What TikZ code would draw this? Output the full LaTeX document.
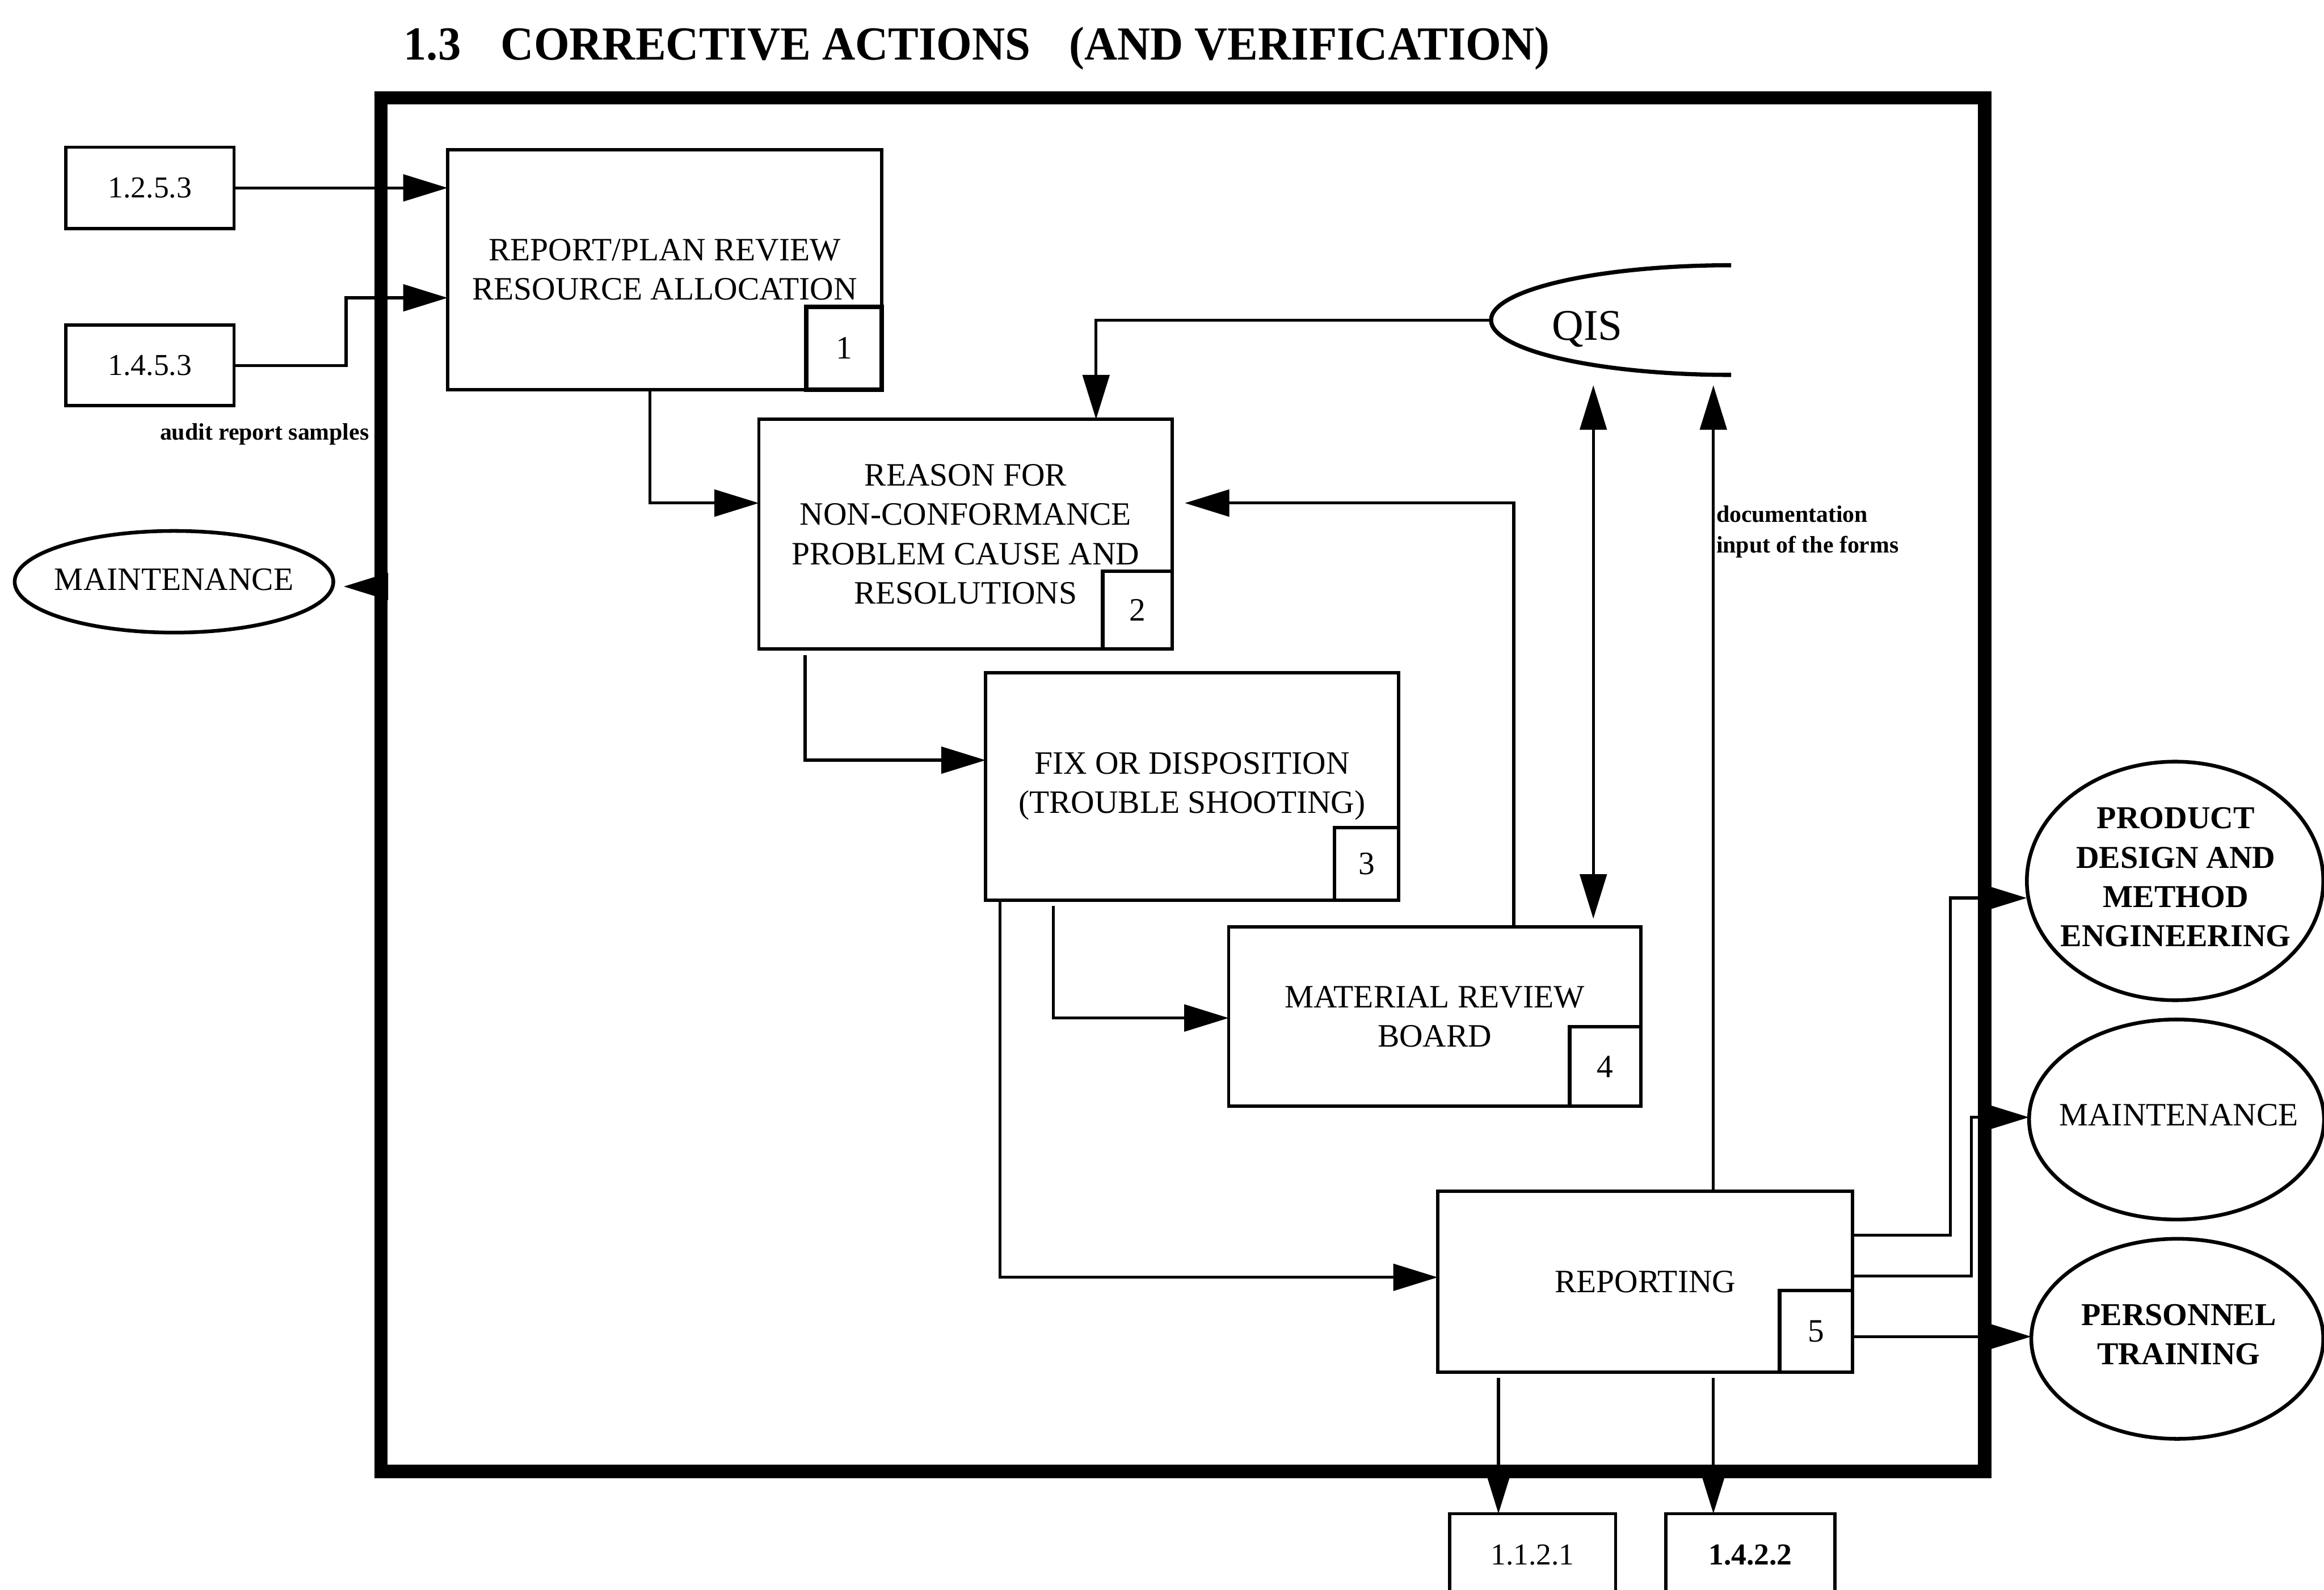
\documentclass[tikz,border=0pt]{standalone}
\usepackage{fontspec}
\usepackage{graphicx}
\setmainfont{Liberation Serif}
\usetikzlibrary{arrows.meta,shapes.geometric}

\begin{document}
\begin{tikzpicture}[x=1pt,y=-1pt,
  every node/.style={inner sep=0pt, outer sep=0pt},
  procbox/.style={draw, line width=2.2pt, align=center, font=\fontsize{22}{26.5}\selectfont},
  numbox/.style={draw, line width=2.4pt, anchor=south east, font=\fontsize{22}{26}\selectfont},
  refbox/.style={draw, line width=2.2pt, font=\fontsize{20.5}{24}\selectfont},
  extshape/.style={draw, ellipse, line width=2.5pt},
  exttext/.style={align=center, font=\fontsize{22}{26.5}\selectfont},
  extbold/.style={align=center, font=\fontsize{21.5}{26.5}\selectfont\bfseries},
  note/.style={font=\fontsize{16}{19}\selectfont\bfseries},
  link/.style={line width=2pt},
  arr/.style={link, -{Triangle[length=30pt,width=18pt]}},
  arrboth/.style={link, {Triangle[length=30pt,width=18pt]}-{Triangle[length=30pt,width=18pt]}}
]
\useasboundingbox (0,0) rectangle (1568,1073);
\fill[white] (0,0) rectangle (1568,1073);

% title
\node[anchor=base, font=\fontsize{32}{38}\selectfont\bfseries] (title) at (659,40.5)
  {\scalebox{0.964}[1]{1.3\hspace{28pt}CORRECTIVE ACTIONS\hspace{27pt}(AND VERIFICATION)}};

% outer boundary
\node[draw, line width=9pt, minimum width=1082pt, minimum height=927pt] (frame) at (798,529.5) {};

% process boxes
\node[procbox, minimum width=293pt, minimum height=162pt] (b1) at (448.5,182) {REPORT/PLAN REVIEW\\RESOURCE ALLOCATION};
\node[procbox, minimum width=279pt, minimum height=155pt] (b2) at (651.5,360.5) {REASON FOR\\NON-CONFORMANCE\\PROBLEM CAUSE AND\\RESOLUTIONS};
\node[procbox, minimum width=278.5pt, minimum height=153.5pt] (b3) at (804.25,530.75) {FIX OR DISPOSITION\\(TROUBLE SHOOTING)};
\node[procbox, minimum width=278pt, minimum height=121pt] (b4) at (968,686) {MATERIAL REVIEW\\BOARD};
\node[procbox, minimum width=280pt, minimum height=122pt] (b5) at (1110,865) {REPORTING};

% step numbers
\node[numbox, line width=3pt, minimum width=51pt, minimum height=56pt] (n1) at (b1.south east) {1};
\node[numbox, minimum width=47pt, minimum height=52.5pt] (n2) at (b2.south east) {2};
\node[numbox, minimum width=43pt, minimum height=49pt] (n3) at (b3.south east) {3};
\node[numbox, minimum width=48pt, minimum height=53.5pt] (n4) at (b4.south east) {4};
\node[numbox, minimum width=49.3pt, minimum height=55pt] (n5) at (b5.south east) {5};

% reference boxes
\node[refbox, minimum width=113.4pt, minimum height=55pt] (in1) at (101.2,126.8) {1.2.5.3};
\node[refbox, minimum width=113.4pt, minimum height=54.3pt] (in2) at (101.2,246.6) {1.4.5.3};
\node[refbox, minimum width=112pt, minimum height=56pt] (o1) at (1034,1049.5) {1.1.2.1};
\node[refbox, minimum width=114pt, minimum height=56pt, font=\fontsize{20.5}{24}\selectfont\bfseries] (o2) at (1181,1049.5) {1.4.2.2};

% external entities
\node[extshape, minimum width=215pt, minimum height=68.6pt] (m1) at (117.4,392.6) {};
\node[exttext] (m1t) at (117.4,391) {MAINTENANCE};
\node[extshape, minimum width=200pt, minimum height=161pt] (pde) at (1467.5,594.5) {};
\node[extbold] (pdet) at (1468,592) {PRODUCT\\DESIGN AND\\METHOD\\ENGINEERING};
\node[extshape, minimum width=199pt, minimum height=135pt] (m2) at (1468.5,755.5) {};
\node[exttext] (m2t) at (1470,752.6) {MAINTENANCE};
\node[extshape, minimum width=197pt, minimum height=135pt] (pt) at (1469,903.5) {};
\node[extbold] (ptt) at (1470,900.7) {PERSONNEL\\TRAINING};

% QIS data store (open on the right)
\coordinate (qisL) at (1006,216);
\draw[line width=2.8pt] (1168,179) .. controls (1078.5,179) and (1006,195.6) .. (qisL)
  .. controls (1006,236.4) and (1078.5,253) .. (1168,253);
\node[font=\fontsize{29.5}{34}\selectfont] (qis) at (1071,222) {QIS};

% inputs to step 1
\draw[arr] (in1.east) -- (in1.east -| b1.west);
\coordinate (j2) at (233.5,201);
\draw[arr] (in2.east) -| (j2) -- (j2 -| b1.west);

% flow between steps
\coordinate (k1) at (438.6,339.5);
\draw[arr] (b1.south -| k1) -- (k1) -- (k1 -| b2.west);
\coordinate (k2) at (543.2,513);
\draw[arr, shorten <=4pt] (b2.south -| k2) -- (k2) -- (k2 -| b3.west);
\coordinate (k3) at (710.7,687);
\draw[arr, shorten <=4pt] (b3.south -| k3) -- (k3) -- (k3 -| b4.west);
\coordinate (k4) at (674.6,862);
\draw[arr] (b3.south -| k4) -- (k4) -- (k4 -| b5.west);

% feedback from the board
\coordinate (k5) at (1021.3,339.5);
\coordinate (k5t) at (799.4,339.5);
\draw[arr] (b4.north -| k5) -- (k5) -- (k5t);

% QIS links
\coordinate (k6) at (739.5,216);
\draw[arr] (qisL) -- (k6) -- (k6 |- b2.north);
\coordinate (q1) at (1075,260);
\draw[arrboth, shorten >=5.5pt] (q1) -- (b4.north -| q1);
\coordinate (q2) at (1156,260);
\draw[arr] (b5.north -| q2) -- (q2);

% outputs of reporting
\draw[arr, shorten <=4pt] (b5.south -| q2) -- (o2.north -| q2);
\coordinate (d1) at (1011,1000);
\draw[arr, shorten <=4pt] (b5.south -| d1) -- (o1.north -| d1);
\coordinate (r1a) at (1316,833.5);
\coordinate (r1b) at (1316,606);
\draw[arr] (b5.east |- r1a) -- (r1a) -- (r1b) -- (r1b -| pde.west);
\coordinate (r2a) at (1330,861);
\coordinate (r2b) at (1330,754);
\draw[arr] (b5.east |- r2a) -- (r2a) -- (r2b) -- (r2b -| m2.west);
\coordinate (r3) at (1300,902);
\draw[arr] (b5.east |- r3) -- (r3 -| pt.west);

% output to maintenance (left)
\coordinate (lm) at (257,395.8);
\draw[arr, shorten >=7pt] (lm) -- (lm -| m1.east);

% annotations
\node[note, anchor=east] (audit) at (249,293) {audit report samples};
\node[note, anchor=west] (doc1) at (1158,347) {documentation};
\node[note, anchor=west] (doc2) at (1158,369) {input of the forms};
\end{tikzpicture}
\end{document}
